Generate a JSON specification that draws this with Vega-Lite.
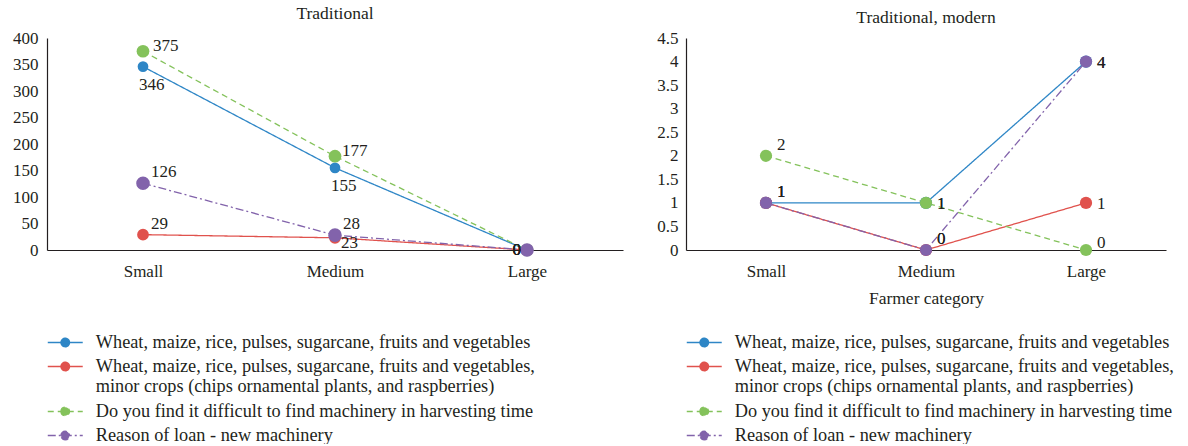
{
  "$schema": "https://vega.github.io/schema/vega-lite/v6.json",
  "padding": {"left": 12, "top": 4, "right": 0, "bottom": 0},
  "background": "white",
  "config": {
    "font": "Liberation Serif",
    "view": {"stroke": null},
    "axis": {
      "labelFont": "Liberation Serif",
      "labelFontSize": 17,
      "labelColor": "#231f20",
      "domainColor": "#231f20",
      "domainWidth": 1.2,
      "ticks": false,
      "grid": false,
      "titleFont": "Liberation Serif",
      "titleFontSize": 17.5,
      "titleFontWeight": "normal",
      "titleColor": "#231f20"
    },
    "title": {"font": "Liberation Serif", "fontSize": 17.5, "fontWeight": "normal", "color": "#231f20", "anchor": "middle"},
    "text": {"font": "Liberation Serif", "fontSize": 17, "color": "#231f20", "baseline": "middle"},
    "legend": {
      "orient": "none",
      "direction": "vertical",
      "title": null,
      "labelFont": "Liberation Serif",
      "labelFontSize": 18.3,
      "labelColor": "#231f20",
      "labelLimit": 1000,
      "labelOffset": 21,
      "rowPadding": 5,
      "symbolType": "M-2,0H2M-0.48,0A0.48,0.48,0,1,1,0.48,0A0.48,0.48,0,1,1,-0.48,0",
      "symbolSize": 306,
      "symbolStrokeWidth": 1.5
    },
    "concat": {"spacing": 33}
  },
  "datasets": {
    "traditional": [
      {"category": "Small", "series": "Wheat, maize, rice, pulses, sugarcane, fruits and vegetables", "value": 346},
      {"category": "Medium", "series": "Wheat, maize, rice, pulses, sugarcane, fruits and vegetables", "value": 155},
      {"category": "Large", "series": "Wheat, maize, rice, pulses, sugarcane, fruits and vegetables", "value": 0},
      {"category": "Small", "series": "Wheat, maize, rice, pulses, sugarcane, fruits and vegetables, minor crops (chips ornamental plants, and raspberries)", "value": 29},
      {"category": "Medium", "series": "Wheat, maize, rice, pulses, sugarcane, fruits and vegetables, minor crops (chips ornamental plants, and raspberries)", "value": 23},
      {"category": "Large", "series": "Wheat, maize, rice, pulses, sugarcane, fruits and vegetables, minor crops (chips ornamental plants, and raspberries)", "value": 0},
      {"category": "Small", "series": "Do you find it difficult to find machinery in harvesting time", "value": 375},
      {"category": "Medium", "series": "Do you find it difficult to find machinery in harvesting time", "value": 177},
      {"category": "Large", "series": "Do you find it difficult to find machinery in harvesting time", "value": 0},
      {"category": "Small", "series": "Reason of loan - new machinery", "value": 126},
      {"category": "Medium", "series": "Reason of loan - new machinery", "value": 28},
      {"category": "Large", "series": "Reason of loan - new machinery", "value": 0}
    ],
    "modern": [
      {"category": "Small", "series": "Wheat, maize, rice, pulses, sugarcane, fruits and vegetables", "value": 1},
      {"category": "Medium", "series": "Wheat, maize, rice, pulses, sugarcane, fruits and vegetables", "value": 1},
      {"category": "Large", "series": "Wheat, maize, rice, pulses, sugarcane, fruits and vegetables", "value": 4},
      {"category": "Small", "series": "Wheat, maize, rice, pulses, sugarcane, fruits and vegetables, minor crops (chips ornamental plants, and raspberries)", "value": 1},
      {"category": "Medium", "series": "Wheat, maize, rice, pulses, sugarcane, fruits and vegetables, minor crops (chips ornamental plants, and raspberries)", "value": 0},
      {"category": "Large", "series": "Wheat, maize, rice, pulses, sugarcane, fruits and vegetables, minor crops (chips ornamental plants, and raspberries)", "value": 1},
      {"category": "Small", "series": "Do you find it difficult to find machinery in harvesting time", "value": 2},
      {"category": "Medium", "series": "Do you find it difficult to find machinery in harvesting time", "value": 1},
      {"category": "Large", "series": "Do you find it difficult to find machinery in harvesting time", "value": 0},
      {"category": "Small", "series": "Reason of loan - new machinery", "value": 1},
      {"category": "Medium", "series": "Reason of loan - new machinery", "value": 0},
      {"category": "Large", "series": "Reason of loan - new machinery", "value": 4}
    ]
  },
  "hconcat": [
    {
      "title": {"text": "Traditional", "offset": 7},
      "width": 576,
      "height": 212,
      "data": {"name": "traditional"},
      "encoding": {
        "x": {"field": "category", "type": "nominal", "sort": ["Small", "Medium", "Large"],
              "axis": {"title": null, "labelAngle": 0, "labelPadding": 13}},
        "y": {"field": "value", "type": "quantitative", "scale": {"domain": [0, 400]},
              "axis": {"title": null, "values": [0, 50, 100, 150, 200, 250, 300, 350, 400], "labelPadding": 9}}
      },
      "layer": [
        {
          "mark": {"type": "line", "strokeWidth": 1.3},
          "encoding": {
            "color": {"field": "series", "type": "nominal",
              "scale": {"domain": [
                "Wheat, maize, rice, pulses, sugarcane, fruits and vegetables",
                "Wheat, maize, rice, pulses, sugarcane, fruits and vegetables, minor crops (chips ornamental plants, and raspberries)",
                "Do you find it difficult to find machinery in harvesting time",
                "Reason of loan - new machinery"],
                "range": ["#2e86c6", "#e0524d", "#84c25b", "#8263ab"]},
              "legend": {"legendX": 8.75, "legendY": 295,
                "labelExpr": "indexof(datum.label, ', minor') > 0 ? [substring(datum.label, 0, indexof(datum.label, ' minor')), substring(datum.label, indexof(datum.label, 'minor'))] : datum.label"}},
            "strokeDash": {"field": "series", "type": "nominal",
              "scale": {"domain": [
                "Wheat, maize, rice, pulses, sugarcane, fruits and vegetables",
                "Wheat, maize, rice, pulses, sugarcane, fruits and vegetables, minor crops (chips ornamental plants, and raspberries)",
                "Do you find it difficult to find machinery in harvesting time",
                "Reason of loan - new machinery"],
                "range": [[1, 0], [1, 0], [6, 4], [8, 3, 2, 3]]},
              "legend": {"legendX": 8.75, "legendY": 295}}
          }
        },
        {
          "mark": {"type": "point", "filled": true, "opacity": 1, "shape": "circle"},
          "encoding": {
            "color": {"field": "series", "type": "nominal"},
            "size": {"field": "series", "type": "nominal", "legend": null,
              "scale": {"domain": [
                "Wheat, maize, rice, pulses, sugarcane, fruits and vegetables",
                "Wheat, maize, rice, pulses, sugarcane, fruits and vegetables, minor crops (chips ornamental plants, and raspberries)",
                "Do you find it difficult to find machinery in harvesting time",
                "Reason of loan - new machinery"],
                "range": [115, 185, 115, 115]}}
          }
        },
        {
          "transform": [{"filter": "datum.category == 'Small' && indexof(datum.series, 'Do you') == 0"}],
          "mark": {"type": "text", "align": "left", "dx": 10, "dy": -5},
          "encoding": {"text": {"field": "value", "type": "quantitative"}}
        },
        {
          "transform": [{"filter": "(datum.category == 'Small' && (indexof(datum.series, 'minor') > 0 || indexof(datum.series, 'Reason') == 0)) || (datum.category == 'Medium' && indexof(datum.series, 'Reason') == 0)"}],
          "mark": {"type": "text", "align": "left", "dx": 8, "dy": -11},
          "encoding": {"text": {"field": "value", "type": "quantitative"}}
        },
        {
          "transform": [{"filter": "datum.category != 'Large' && datum.series == 'Wheat, maize, rice, pulses, sugarcane, fruits and vegetables'"}],
          "mark": {"type": "text", "align": "left", "dx": -4, "dy": 18},
          "encoding": {"text": {"field": "value", "type": "quantitative"}}
        },
        {
          "transform": [{"filter": "datum.category == 'Medium' && indexof(datum.series, 'Do you') == 0"}],
          "mark": {"type": "text", "align": "left", "dx": 7, "dy": -5},
          "encoding": {"text": {"field": "value", "type": "quantitative"}}
        },
        {
          "transform": [{"filter": "datum.category == 'Medium' && indexof(datum.series, 'minor') > 0"}],
          "mark": {"type": "text", "align": "left", "dx": 6, "dy": 5},
          "encoding": {"text": {"field": "value", "type": "quantitative"}}
        },
        {
          "transform": [{"filter": "datum.category == 'Large'"}],
          "mark": {"type": "text", "align": "right", "dx": -6, "dy": 0},
          "encoding": {"text": {"field": "value", "type": "quantitative"}}
        }
      ]
    },
    {
      "title": {"text": "Traditional, modern", "offset": 3},
      "width": 480,
      "height": 212,
      "data": {"name": "modern"},
      "encoding": {
        "x": {"field": "category", "type": "nominal", "sort": ["Small", "Medium", "Large"],
              "axis": {"title": "Farmer category", "labelAngle": 0, "labelPadding": 13, "titlePadding": 10}},
        "y": {"field": "value", "type": "quantitative", "scale": {"domain": [0, 4.5]},
              "axis": {"title": null, "values": [0, 0.5, 1, 1.5, 2, 2.5, 3, 3.5, 4, 4.5], "format": ".1~f", "labelPadding": 8}}
      },
      "layer": [
        {
          "mark": {"type": "line", "strokeWidth": 1.3},
          "encoding": {
            "color": {"field": "series", "type": "nominal",
              "legend": {"legendX": 8.75, "legendY": 295,
                "labelExpr": "indexof(datum.label, ', minor') > 0 ? [substring(datum.label, 0, indexof(datum.label, ' minor')), substring(datum.label, indexof(datum.label, 'minor'))] : datum.label"}},
            "strokeDash": {"field": "series", "type": "nominal", "legend": {"legendX": 8.75, "legendY": 295}}
          }
        },
        {
          "mark": {"type": "point", "filled": true, "opacity": 1, "shape": "circle", "size": 150},
          "encoding": {"color": {"field": "series", "type": "nominal"}}
        },
        {
          "transform": [{"filter": "datum.category == 'Small' || (datum.category == 'Medium' && datum.value == 0)"}],
          "mark": {"type": "text", "align": "left", "dx": 11, "dy": -11},
          "encoding": {"text": {"field": "value", "type": "quantitative"}}
        },
        {
          "transform": [{"filter": "(datum.category == 'Medium' && datum.value == 1) || (datum.category == 'Large' && datum.value > 0)"}],
          "mark": {"type": "text", "align": "left", "dx": 11, "dy": 1},
          "encoding": {"text": {"field": "value", "type": "quantitative"}}
        },
        {
          "transform": [{"filter": "datum.category == 'Large' && datum.value == 0"}],
          "mark": {"type": "text", "align": "left", "dx": 11, "dy": -7},
          "encoding": {"text": {"field": "value", "type": "quantitative"}}
        }
      ]
    }
  ],
  "resolve": {"legend": {"color": "independent", "strokeDash": "independent"}}
}
